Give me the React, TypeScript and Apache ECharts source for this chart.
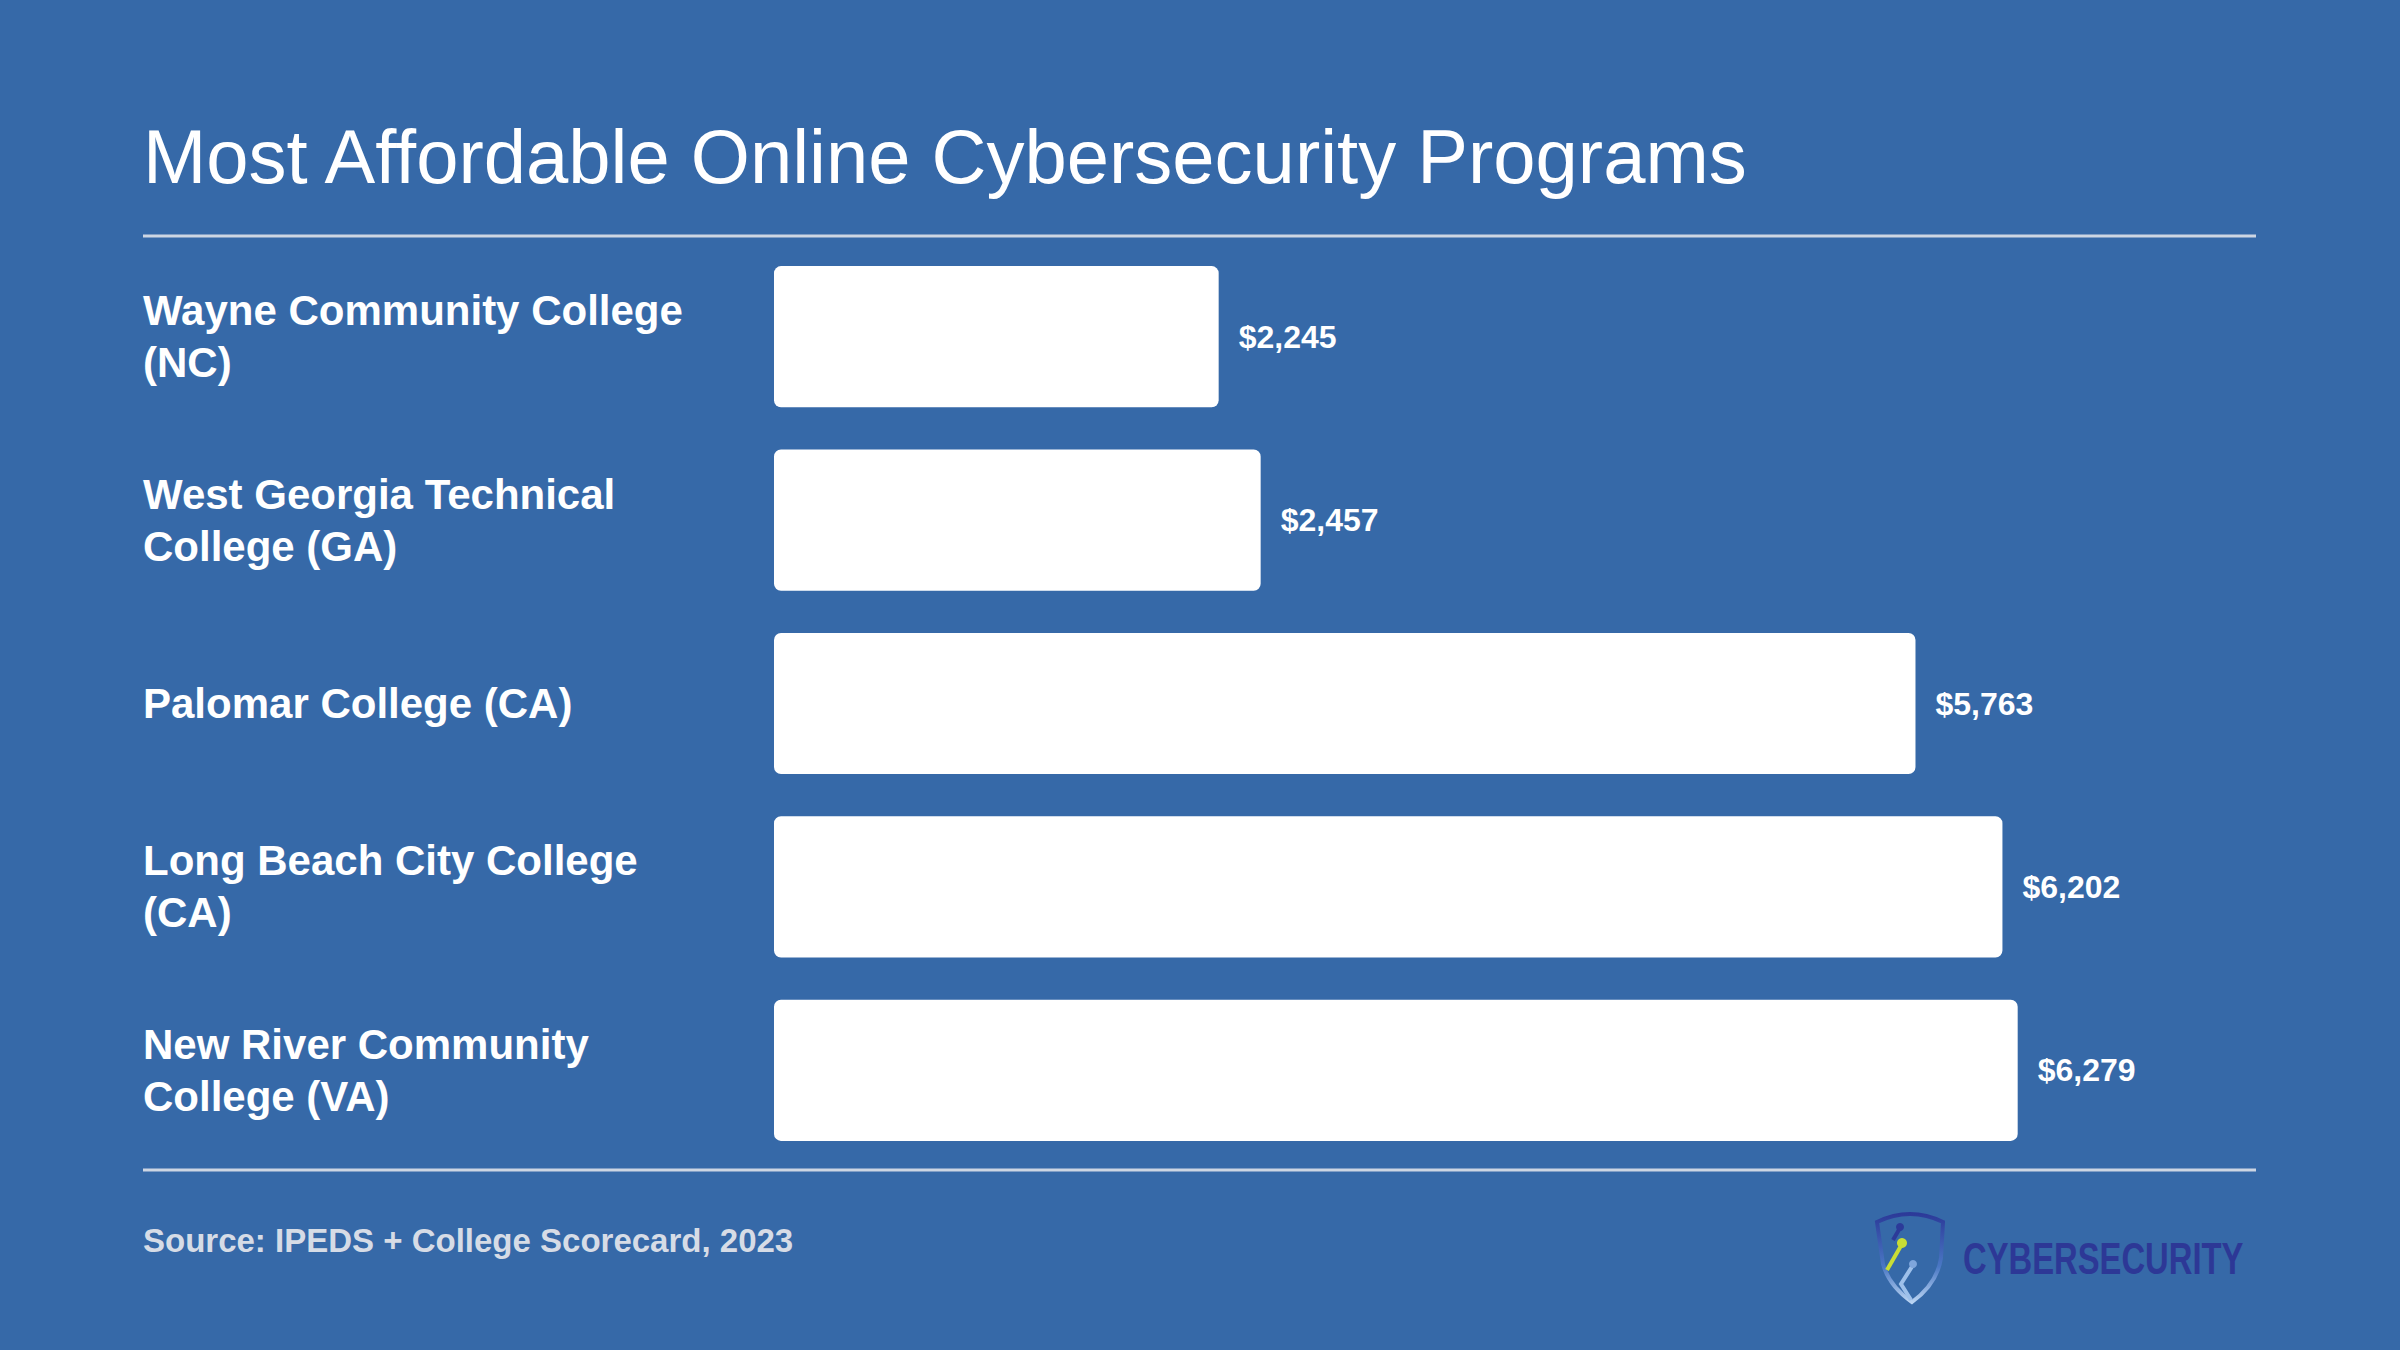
import React, { useEffect, useRef } from "react";
import * as echarts from "echarts";

const categories: string[] = [
  "Wayne Community College\n(NC)",
  "West Georgia Technical\nCollege (GA)",
  "Palomar College (CA)",
  "Long Beach City College\n(CA)",
  "New River Community\nCollege (VA)",
];
const costs: number[] = [2245, 2457, 5763, 6202, 6279];

const titleText = "Most Affordable Online Cybersecurity Programs";
const sourceText = "Source: IPEDS + College Scorecard, 2023";
const logoText = "CYBERSECURITY";

const BG = "#3669A8";
const FONT = "'Liberation Sans', Arial, Helvetica, sans-serif";

const shieldPath =
  "M0 8 Q33 -8 66 8 L64 44 Q60 70 35 88 Q12 72 6 50 Z";

export default function App() {
  const ref = useRef<HTMLDivElement>(null);
  useEffect(() => {
    if (!ref.current) return;
    try {
      echarts.graphic.registerShape(
        "shieldLogo",
        echarts.graphic.extendPath(shieldPath, {}) as any
      );
    } catch (e) {}
    const chart = echarts.init(ref.current, null, { renderer: "svg" });
    const option: any = {
      animation: false,
      backgroundColor: BG,
      grid: { left: 774, top: 245, height: 917, width: 1386.5, containLabel: false },
      xAxis: {
        type: "value",
        min: 0,
        max: 7000,
        show: false,
        splitLine: { show: false },
      },
      yAxis: {
        type: "category",
        inverse: true,
        data: categories,
        axisLine: { show: false },
        axisTick: { show: false },
        splitLine: { show: false },
        axisLabel: {
          margin: 631,
          align: "left",
          color: "#ffffff",
          fontFamily: FONT,
          fontWeight: "bold",
          fontSize: 42,
          lineHeight: 52,
        },
      },
      series: [
        {
          type: "bar",
          data: costs,
          barCategoryGap: "23%",
          itemStyle: { color: "#ffffff", borderRadius: 7 },
          label: {
            show: true,
            position: "right",
            distance: 20,
            color: "#ffffff",
            fontFamily: FONT,
            fontWeight: "bold",
            fontSize: 32,
            formatter: (p: any) => "$" + Number(p.value).toLocaleString("en-US"),
          },
        },
      ],
      graphic: [
        {
          type: "text",
          x: 143,
          y: 156,
          style: {
            text: titleText,
            fill: "#ffffff",
            font: `76px ${FONT}`,
            verticalAlign: "middle",
            align: "left",
          },
        },
        {
          type: "line",
          shape: { x1: 143, y1: 236, x2: 2256, y2: 236 },
          style: { stroke: "#cdd6e3", lineWidth: 3 },
        },
        {
          type: "line",
          shape: { x1: 143, y1: 1170, x2: 2256, y2: 1170 },
          style: { stroke: "#cdd6e3", lineWidth: 3 },
        },
        {
          type: "text",
          x: 143,
          y: 1240,
          style: {
            text: sourceText,
            fill: "#d6dce6",
            font: `bold 33px ${FONT}`,
            verticalAlign: "middle",
            align: "left",
          },
        },
        {
          type: "group",
          x: 1877,
          y: 1214,
          children: [
            {
              type: "shieldLogo",
              x: 0,
              y: 0,
              style: {
                fill: "none",
                lineWidth: 4,
                stroke: new echarts.graphic.LinearGradient(0, 0, 0, 1, [
                  { offset: 0, color: "#2c3a99" },
                  { offset: 0.6, color: "#4a78c4" },
                  { offset: 1, color: "#b9d3f2" },
                ]),
              },
            },
            {
              type: "line",
              shape: { x1: 16, y1: 26, x2: 23, y2: 14 },
              style: { stroke: "#2c3a99", lineWidth: 4 },
            },
            { type: "circle", shape: { cx: 23, cy: 13, r: 4 }, style: { fill: "#2c3a99" } },
            {
              type: "line",
              shape: { x1: 10, y1: 56, x2: 25, y2: 30 },
              style: { stroke: "#c9dd35", lineWidth: 4 },
            },
            { type: "circle", shape: { cx: 25, cy: 29, r: 5 }, style: { fill: "#c9dd35" } },
            {
              type: "polyline",
              shape: { points: [[36, 51], [24, 70], [34, 86]] },
              style: { stroke: "#9ec0ea", lineWidth: 4, fill: "none" },
            },
            { type: "circle", shape: { cx: 36, cy: 50, r: 4 }, style: { fill: "#7fa6dc" } },
          ],
        },
        {
          type: "text",
          x: 1963,
          y: 1259,
          scaleX: 0.745,
          style: {
            text: logoText,
            fill: "#2d3896",
            font: `bold 44px ${FONT}`,
            verticalAlign: "middle",
            align: "left",
          },
        },
      ],
    };
    chart.setOption(option);
    return () => chart.dispose();
  }, []);
  return (
    <div
      ref={ref}
      style={{ position: "fixed", left: 0, top: 0, width: 2400, height: 1350, background: BG }}
    />
  );
}
